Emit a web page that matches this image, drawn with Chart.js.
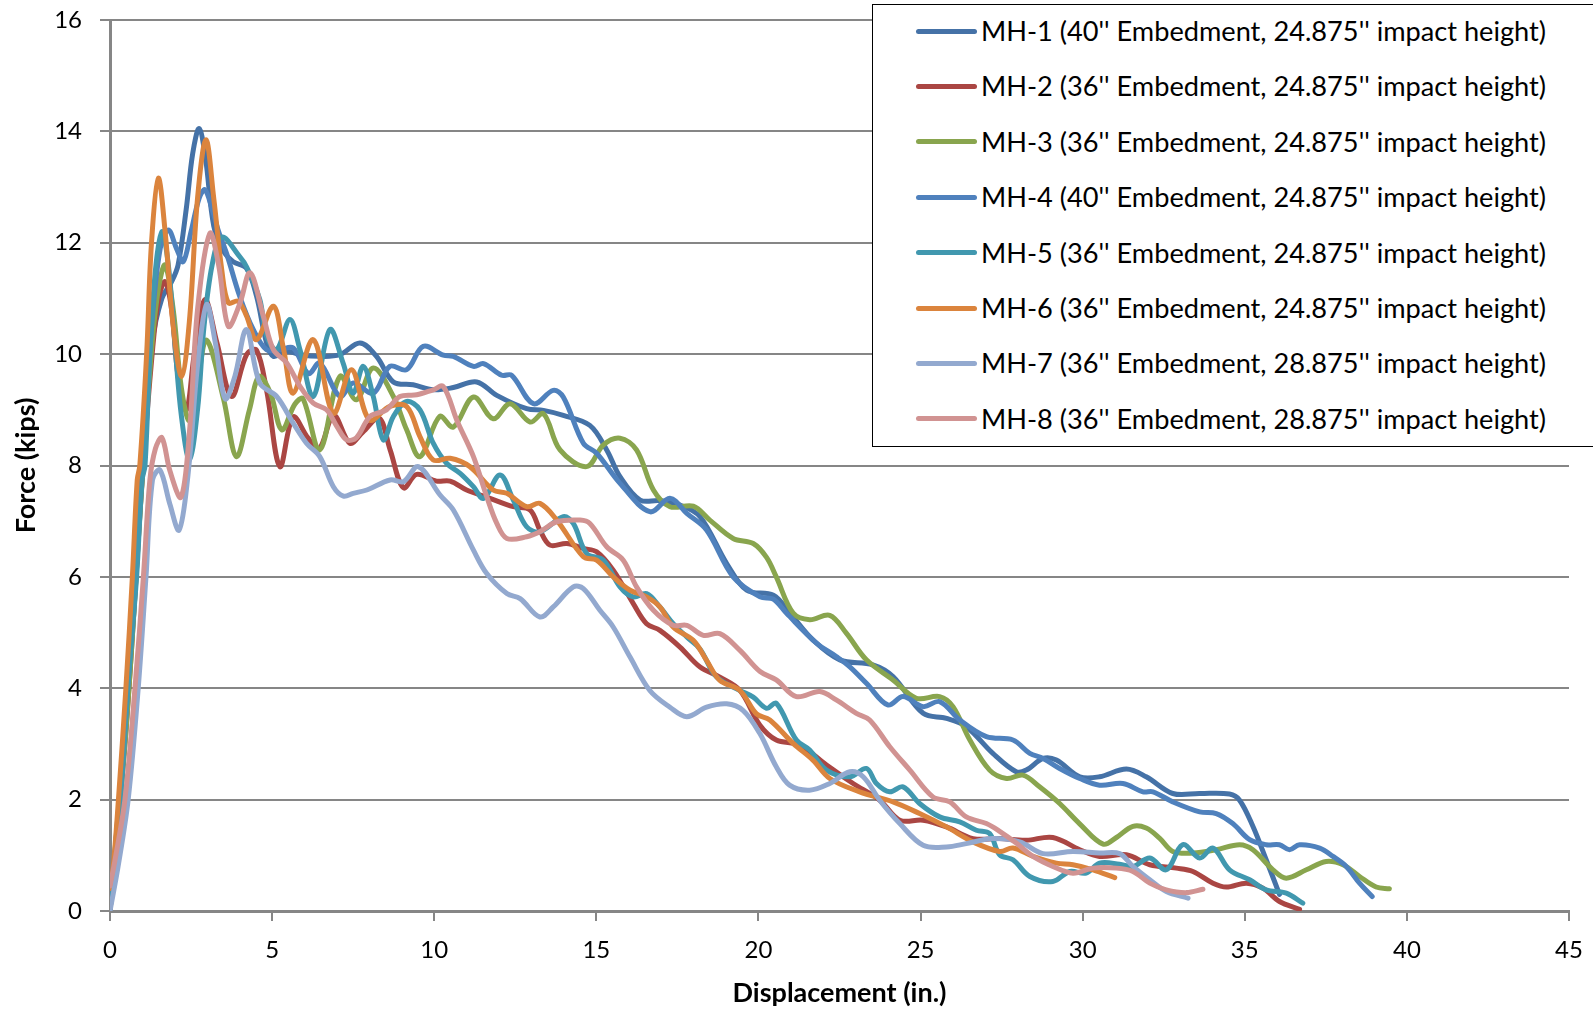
<!DOCTYPE html>
<html lang="en">
<head>
    <meta charset="UTF-8">
    <title>Force vs Displacement</title>
    <style>
        body { margin: 0; background: #fff; overflow: hidden; }
        #wrap { position: relative; width: 1593px; height: 1010px; }
        #legend {
            position: absolute; left: 872px; top: 4px; width: 740px; height: 443px;
            box-sizing: border-box; border: 1.5px solid #000; background: #fff;
            font-family: Lato, "Open Sans", sans-serif; font-size: 26px; color: #000;
        }
        .row { position: absolute; left: 0; height: 40px; display: flex; align-items: center; white-space: nowrap; }
        .swatch { position: absolute; left: 43px; width: 61px; height: 5px; border-radius: 3px; }
        .txt { position: absolute; left: 108px; transform-origin: left center; }
    </style>
</head>
<body>
<div id="wrap">
    <canvas id="forceChart" width="1593" height="1010"></canvas>
    <div id="legend"></div>
</div>

<script src="https://cdn.jsdelivr.net/npm/chart.js"></script>
<script>
    // test names and colours
    const labels = [
        "MH-1 (40'' Embedment, 24.875'' impact height)",
        "MH-2 (36'' Embedment, 24.875'' impact height)",
        "MH-3 (36'' Embedment, 24.875'' impact height)",
        "MH-4 (40'' Embedment, 24.875'' impact height)",
        "MH-5 (36'' Embedment, 24.875'' impact height)",
        "MH-6 (36'' Embedment, 24.875'' impact height)",
        "MH-7 (36'' Embedment, 28.875'' impact height)",
        "MH-8 (36'' Embedment, 28.875'' impact height)"
    ];
    const colors = ['#4572A7', '#AA4643', '#89A54E', '#4F81BD', '#4198AF', '#DB843D', '#93A9CF', '#D19392'];

    // axis ticks
    const xTicks = [0, 5, 10, 15, 20, 25, 30, 35, 40, 45];
    const yTicks = [0, 2, 4, 6, 8, 10, 12, 14, 16];

    // displacement (in.) / force (kips)
    const mh1X = [0,0.5,1.0,1.3,1.6,1.9,2.1,2.35,2.55,2.75,2.95,3.2,3.5,3.8,4.21,4.52,4.83,5.04,5.45,5.86,6.47,7.09,7.71,8.22,8.74,9.35,9.97,10.59,11.31,11.93,12.85,13.37,13.98,14.8,15.32,15.73,16.35,16.96,17.58,18.2,19.02,19.64,20.46,20.97,21.68,22.51,23.53,24.15,25.08,25.8,26.41,27.23,27.95,28.26,28.78,29.19,29.91,30.52,31.35,31.96,32.78,33.61,34.53,34.84,35.25,35.66,36.07];
    const mh1Y = [0,3.5,8.0,10.2,11.0,11.3,11.6,12.6,13.6,14.05,13.5,12.3,11.85,11.66,11.54,11.04,10.2,9.96,10.05,9.99,9.96,9.99,10.2,9.96,9.5,9.45,9.36,9.4,9.5,9.26,9.02,8.99,8.9,8.72,8.28,7.8,7.38,7.37,7.29,7.08,6.24,5.76,5.67,5.35,4.87,4.51,4.42,4.21,3.55,3.46,3.31,2.83,2.5,2.53,2.74,2.71,2.41,2.41,2.55,2.41,2.11,2.11,2.1,1.99,1.52,0.92,0.3];

    const mh2X = [0,0.5,1.0,1.3,1.5,1.7,1.9,2.1,2.36,2.6,2.93,3.3,3.75,4.22,4.52,4.83,5.24,5.65,6.1,6.45,6.9,7.4,7.8,8.3,8.64,9.05,9.46,10.07,10.49,11.0,11.72,12.44,12.96,13.26,13.57,14.09,14.6,15.01,15.52,16.14,16.55,16.96,17.58,18.2,18.81,19.43,20.04,20.55,21.27,22.1,22.92,23.74,24.36,25.08,25.8,26.62,27.44,28.26,29.08,29.91,30.52,31.35,32.07,32.89,33.4,34.02,34.43,35.05,35.56,36.07,36.69];
    const mh2Y = [0,3.3,7.8,10.0,11.0,11.3,10.8,9.6,9.0,10.0,10.98,10.2,9.24,10.0,10.07,9.35,7.98,8.87,8.5,8.3,8.9,8.4,8.6,8.85,8.28,7.6,7.84,7.72,7.72,7.56,7.41,7.26,7.2,6.84,6.57,6.6,6.51,6.45,6.12,5.52,5.16,5.04,4.74,4.38,4.2,3.96,3.34,3.07,2.98,2.62,2.29,1.99,1.63,1.63,1.51,1.3,1.3,1.27,1.32,1.1,0.98,1.01,0.83,0.77,0.71,0.5,0.43,0.5,0.41,0.17,0.03];

    const mh3X = [0,0.5,1.0,1.3,1.5,1.7,1.95,2.2,2.45,2.7,2.98,3.5,3.9,4.3,4.6,4.95,5.3,5.7,5.95,6.47,7.09,7.6,8.12,8.74,9.15,9.56,10.17,10.59,11.21,11.82,12.34,12.96,13.37,13.88,14.7,15.22,15.73,16.24,16.76,17.27,17.99,18.5,19.22,19.84,20.25,20.55,21.07,21.58,22.2,22.71,23.33,24.15,24.87,25.59,26.0,26.52,27.13,27.65,28.16,28.67,29.29,29.9,30.63,31.04,31.55,31.96,32.37,32.78,33.4,34.12,34.84,35.25,35.87,36.28,36.9,37.51,38.03,38.54,39.05,39.46];
    const mh3Y = [0,3.3,7.8,10.2,11.2,11.6,10.8,9.4,8.8,9.5,10.25,9.2,8.16,9.0,9.6,9.3,8.64,9.1,9.2,8.28,9.6,9.18,9.75,9.24,8.64,8.16,8.88,8.69,9.23,8.84,9.11,8.78,8.93,8.28,7.98,8.37,8.49,8.28,7.56,7.26,7.27,7.02,6.69,6.6,6.35,6.0,5.35,5.23,5.31,4.99,4.51,4.15,3.82,3.85,3.67,3.07,2.53,2.38,2.44,2.23,1.93,1.57,1.2,1.32,1.52,1.49,1.31,1.07,1.04,1.1,1.19,1.1,0.74,0.59,0.74,0.89,0.83,0.62,0.43,0.4];

    const mh4X = [0,0.5,1.0,1.3,1.55,1.8,2.05,2.26,2.5,2.75,2.93,3.15,3.35,3.6,4.0,4.42,4.83,5.24,5.65,6.12,6.47,7.09,7.5,8.12,8.63,9.15,9.66,10.28,10.59,11.21,11.52,12.08,12.39,13.06,13.67,13.98,14.6,15.01,15.73,16.65,17.27,17.79,18.4,19.22,20.05,20.46,20.86,21.79,22.4,22.81,23.33,23.99,24.46,25.08,25.59,26.21,27.03,27.85,28.37,28.78,29.29,29.91,30.52,31.24,31.86,32.17,32.78,33.61,34.12,34.63,35.15,35.66,36.07,36.38,36.69,37.31,37.72,38.13,38.54,38.93];
    const mh4Y = [0,3.6,8.1,10.6,11.9,12.23,11.9,11.66,12.2,12.8,12.95,12.6,12.2,11.8,11.04,10.44,10.08,10.08,10.11,9.65,9.84,9.24,9.48,9.3,9.78,9.72,10.14,9.98,9.96,9.78,9.83,9.62,9.62,9.11,9.35,9.23,8.4,8.22,7.68,7.17,7.41,7.14,6.84,6.0,5.64,5.6,5.35,4.81,4.57,4.39,4.09,3.7,3.85,3.67,3.76,3.43,3.13,3.07,2.83,2.74,2.56,2.38,2.26,2.29,2.14,2.14,1.96,1.78,1.75,1.57,1.28,1.19,1.19,1.1,1.19,1.13,0.98,0.8,0.5,0.26];

    const mh5X = [0,0.3,0.55,0.82,0.99,1.08,1.23,1.4,1.6,1.8,2.0,2.2,2.45,2.7,2.9,3.15,3.45,4.0,4.21,4.62,4.83,5.14,5.55,5.86,6.27,6.78,7.19,7.5,7.81,8.12,8.43,8.74,9.15,9.56,9.97,10.38,10.8,11.21,11.52,12.03,12.44,12.85,13.26,13.98,14.29,14.7,15.22,15.73,16.14,16.55,16.96,17.37,17.79,18.2,18.71,19.43,19.84,20.25,20.55,21.17,21.58,22.1,22.82,23.33,23.64,24.05,24.46,24.97,25.59,26.21,26.72,27.13,27.44,27.85,28.37,29.08,29.6,30.11,30.52,31.14,31.55,32.07,32.58,33.09,33.61,34.02,34.53,35.15,35.66,36.28,36.79];
    const mh5Y = [0.2,1.8,4,6,7.74,8,10,11.5,12.2,11.6,10.2,8.9,8.1,9.0,10.5,11.6,12.1,11.75,11.57,10.98,10.32,10.08,10.62,10.08,9.24,10.44,9.84,9.3,9.78,9.24,8.46,8.88,9.15,9.0,8.4,8.04,7.86,7.62,7.41,7.83,7.38,6.9,6.81,7.08,6.96,6.42,6.3,5.82,5.64,5.7,5.46,5.16,4.92,4.7,4.2,3.96,3.84,3.64,3.73,3.07,2.89,2.53,2.41,2.56,2.29,2.14,2.23,1.93,1.69,1.6,1.45,1.39,1.01,0.92,0.62,0.53,0.71,0.68,0.86,0.84,0.8,0.95,0.74,1.19,0.95,1.13,0.74,0.56,0.38,0.32,0.14];

    const mh6X = [0,0.1,0.26,0.49,0.69,0.84,0.92,1.13,1.28,1.49,1.7,1.95,2.21,2.45,2.7,2.96,3.2,3.45,3.65,3.95,4.2,4.52,5.04,5.35,5.65,6.27,6.89,7.45,8.0,8.63,9.15,9.56,9.97,10.49,11.1,11.82,12.24,12.85,13.26,13.78,14.6,15.01,15.52,16.04,16.55,16.96,17.37,17.99,18.4,18.81,19.43,19.94,20.35,21.07,21.68,22.2,23.12,24.15,24.97,25.8,26.62,27.44,27.85,28.47,29.19,29.7,30.32,30.99];
    const mh6Y = [0.4,0.8,2,4,6,7.74,8,10,12,13.16,12.2,10.5,9.6,10.6,12.8,13.85,12.8,11.5,10.92,10.95,10.7,10.26,10.86,10.1,9.3,10.26,8.94,9.72,8.82,9.06,9.06,8.52,8.1,8.13,7.98,7.56,7.5,7.26,7.32,7.02,6.36,6.3,6.0,5.76,5.64,5.46,5.1,4.86,4.5,4.14,3.96,3.54,3.43,3.01,2.71,2.38,2.14,1.96,1.75,1.51,1.24,1.07,1.13,0.98,0.86,0.83,0.74,0.6];

    const mh7X = [0,0.25,0.56,0.87,1.11,1.31,1.54,1.85,2.13,2.4,2.7,2.98,3.25,3.55,3.85,4.21,4.62,5.14,5.65,6.06,6.47,6.89,7.2,7.5,7.92,8.64,9.05,9.51,10.18,10.59,11.21,11.62,12.24,12.65,13.26,13.67,14.29,14.6,15.11,15.52,16.04,16.65,17.27,17.79,18.4,19.02,19.53,20.04,20.55,20.96,21.58,22.2,22.82,23.23,23.74,24.36,25.08,25.8,26.41,27.23,28.06,28.78,29.7,30.52,31.14,31.55,32.07,32.58,33.25];
    const mh7Y = [0,0.8,2,4,6,7.74,7.92,7.3,6.84,7.8,9.8,10.89,10.2,9.2,9.6,10.44,9.48,9.24,8.76,8.4,8.16,7.62,7.45,7.5,7.56,7.74,7.71,7.98,7.47,7.2,6.48,6.06,5.7,5.61,5.28,5.46,5.82,5.79,5.4,5.1,4.56,3.96,3.66,3.49,3.66,3.72,3.6,3.19,2.59,2.26,2.17,2.29,2.5,2.41,1.99,1.57,1.18,1.15,1.21,1.3,1.24,1.03,1.07,1.04,1.03,0.8,0.56,0.35,0.23];

    const mh8X = [0,0.15,0.46,0.77,1.03,1.23,1.4,1.6,1.85,2.19,2.45,2.7,3.08,3.35,3.65,4.0,4.32,4.73,5.04,5.45,5.86,6.27,6.68,7.0,7.3,7.6,8.02,8.53,8.94,9.46,9.97,10.28,10.7,11.21,11.62,11.93,12.24,12.85,13.26,13.78,14.5,14.8,15.32,15.83,16.24,16.76,17.37,17.79,18.3,18.81,19.43,20.05,20.55,21.17,21.89,22.4,23.02,23.43,24.05,24.67,25.38,25.9,26.41,27.03,27.44,27.95,28.47,29.08,29.7,30.32,31.04,31.55,32.07,32.58,33.2,33.71];
    const mh8Y = [0.45,0.9,2,4,6,7.74,8.3,8.5,7.9,7.43,8.6,10.8,12.17,11.6,10.5,10.9,11.46,10.68,10.08,9.84,9.42,9.12,9.0,8.7,8.46,8.5,8.88,9.0,9.24,9.27,9.36,9.42,8.81,8.16,7.44,6.96,6.69,6.72,6.81,6.99,7.02,6.96,6.54,6.3,5.82,5.4,5.13,5.13,4.95,4.98,4.68,4.3,4.15,3.85,3.94,3.79,3.55,3.43,2.95,2.53,2.05,1.96,1.69,1.57,1.43,1.22,0.98,0.8,0.68,0.77,0.77,0.71,0.5,0.38,0.33,0.39];

    const seriesX = [mh1X, mh2X, mh3X, mh4X, mh5X, mh6X, mh7X, mh8X];
    const seriesY = [mh1Y, mh2Y, mh3Y, mh4Y, mh5Y, mh6Y, mh7Y, mh8Y];

    const gridColor = '#868686';
    const tickFont = { family: 'Lato', size: 24 };
    const titleFont = { family: 'Lato', size: 27, weight: 'bold' };

    // later series sit on top, like the original
    const datasets = labels.map((label, i) => ({
        label: label,
        data: seriesX[i].map((x, j) => ({ x: x, y: seriesY[i][j] })),
        borderColor: colors[i],
        backgroundColor: colors[i],
        borderWidth: 5,
        borderCapStyle: 'round',
        borderJoinStyle: 'round',
        pointRadius: 0,
        showLine: true,
        tension: 0.35,
        order: labels.length - i
    }));

    const ctx = document.getElementById('forceChart').getContext('2d');
    const forceChart = new Chart(ctx, {
        type: 'scatter',
        data: { datasets: datasets },
        options: {
            responsive: false,
            animation: false,
            devicePixelRatio: 1,
            layout: { padding: { top: 20, right: 24, bottom: 0, left: 0 } },
            plugins: { legend: { display: false }, tooltip: { enabled: false } },
            scales: {
                x: {
                    type: 'linear',
                    min: 0,
                    max: 45,
                    afterBuildTicks: (scale) => { scale.ticks = xTicks.map(v => ({ value: v })); },
                    ticks: { color: '#000', font: tickFont, padding: 15, maxRotation: 0 },
                    grid: { drawOnChartArea: false, drawTicks: true, tickLength: 10, color: gridColor, lineWidth: 2 },
                    border: { color: gridColor, width: 3 },
                    title: { display: true, text: 'Displacement (in.)', color: '#000', font: titleFont, padding: { top: 0, bottom: 1 } },
                    afterFit: (scale) => { scale.height = 99; scale.paddingLeft = 0; scale.paddingRight = 0; }
                },
                y: {
                    min: 0,
                    max: 16,
                    afterBuildTicks: (scale) => { scale.ticks = yTicks.map(v => ({ value: v })); },
                    ticks: { color: '#000', font: tickFont, padding: 18 },
                    grid: { color: gridColor, lineWidth: 2, tickLength: 10 },
                    border: { color: gridColor, width: 3 },
                    title: { display: true, text: 'Force (kips)', color: '#000', font: titleFont, padding: { top: 10, bottom: 0 } },
                    afterFit: (scale) => { scale.width = 110; scale.paddingTop = 0; scale.paddingBottom = 0; }
                }
            }
        }
    });

    // legend box drawn as html over the plot
    const legendBox = document.getElementById('legend');
    labels.forEach((label, i) => {
        const row = document.createElement('div');
        row.className = 'row';
        row.style.top = (6 + i * 55.4) + 'px';
        row.innerHTML = '<span class="swatch" style="background:' + colors[i] + '"></span><span class="txt">' + label + '</span>';
        legendBox.appendChild(row);
    });
    const first = legendBox.querySelector('.txt');
    const squeeze = 565 / first.getBoundingClientRect().width;
    legendBox.querySelectorAll('.txt').forEach(t => { t.style.transform = 'scaleX(' + squeeze + ')'; });
</script>
</body>
</html>
